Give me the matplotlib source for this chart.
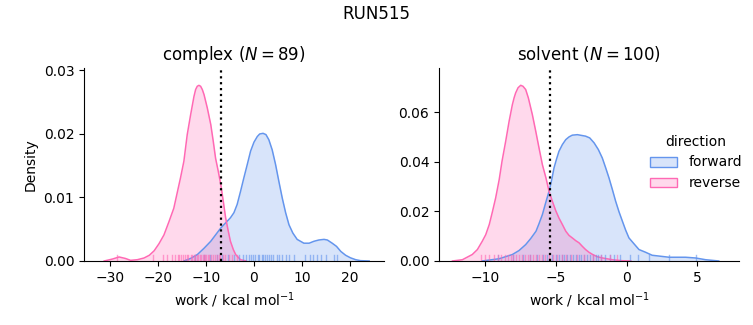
import matplotlib
matplotlib.use("Agg")
import matplotlib.pyplot as plt
from matplotlib.patches import Patch

# KDE curves (work in kcal/mol, density) and the individual work values for the rug
complex_fwd_x = [-14.6, -13.2, -11.8, -10.4, -9.0, -8.0, -6.9, -5.9, -4.9, -4.17, -3.5, -2.78,
                 -2.1, -1.39, -0.7, 0.0, 0.7, 1.2, 1.9, 2.5, 3.1, 3.8, 4.5, 5.2, 5.9, 6.6,
                 7.3, 8.1, 9.0, 9.7, 10.4, 11.5, 12.5, 13.5, 14.6, 15.3, 16.3, 17.2, 18.1,
                 19.1, 20.1, 21.2, 22.2, 24.0]
complex_fwd_y = [0.0, 0.0004, 0.0010, 0.0020, 0.0031, 0.0041, 0.0052, 0.0060, 0.0068, 0.0076,
                 0.0089, 0.0110, 0.0131, 0.0152, 0.0173, 0.0187, 0.0196, 0.0200, 0.0201,
                 0.0199, 0.0191, 0.0175, 0.0152, 0.0125, 0.0099, 0.0076, 0.0057, 0.0044,
                 0.0034, 0.0031, 0.0028, 0.0028, 0.0031, 0.0033, 0.0034, 0.0033, 0.0028,
                 0.0023, 0.0015, 0.0009, 0.0005, 0.0002, 0.00005, 0.0]
complex_rev_x = [-31.2, -29.5, -28.1, -26.8, -25.7, -24.3, -22.9, -21.8, -20.8, -19.8, -18.75,
                 -17.7, -16.7, -15.3, -14.6, -13.9, -13.2, -12.5, -12.15, -11.81, -11.46,
                 -11.11, -10.76, -10.4, -9.72, -9.0, -8.47, -8.0, -7.43, -6.9, -6.39, -5.9,
                 -5.35, -4.9, -4.3, -3.8, -2.8, -1.6]
complex_rev_y = [0.0, 0.0003, 0.00063, 0.0004, 0.0001, 0.0002, 0.00047, 0.0009, 0.0016,
                 0.0027, 0.0041, 0.0062, 0.0083, 0.0131, 0.0157, 0.0199, 0.0230, 0.0259,
                 0.0270, 0.02751, 0.02766, 0.02751, 0.0270, 0.0262, 0.0241, 0.0215, 0.0188,
                 0.0162, 0.0141, 0.0120, 0.0094, 0.0068, 0.0047, 0.0031, 0.0018, 0.0010,
                 0.0002, 0.0]

solvent_fwd_x = [-10.2, -9.0, -8.07, -7.6, -7.13, -6.78, -6.4, -6.19, -5.95, -5.72, -5.48,
                 -5.29, -5.13, -4.96, -4.78, -4.54, -4.3, -4.07, -3.84, -3.48, -2.9, -2.61,
                 -2.3, -2.0, -1.72, -1.48, -1.25, -1.01, -0.78, -0.54, -0.3, -0.07, 0.16,
                 0.52, 0.87, 1.34, 1.8, 3.0, 4.16, 4.87, 5.58, 6.5]
solvent_fwd_y = [0.0, 0.0009, 0.0026, 0.0042, 0.0066, 0.0090, 0.0120, 0.0150, 0.0187, 0.0234,
                 0.0281, 0.0328, 0.0375, 0.0409, 0.0442, 0.0469, 0.0489, 0.0500, 0.0507,
                 0.0509, 0.0503, 0.0496, 0.0476, 0.0449, 0.0415, 0.0375, 0.0335, 0.0288,
                 0.0241, 0.0198, 0.0160, 0.0124, 0.0093, 0.0069, 0.0046, 0.0035, 0.0023,
                 0.0015, 0.0015, 0.0012, 0.0005, 0.0]
solvent_rev_x = [-12.3, -11.6, -10.9, -10.54, -10.2, -9.95, -9.7, -9.48, -9.25, -9.0, -8.8,
                 -8.54, -8.3, -8.07, -7.95, -7.84, -7.67, -7.48, -7.32, -7.13, -6.94, -6.66,
                 -6.42, -6.19, -5.95, -5.7, -5.48, -5.25, -5.01, -4.78, -4.54, -4.3, -4.07,
                 -3.84, -3.6, -3.36, -3.13, -2.9, -2.66, -2.4, -2.07, -1.7, -1.0, -0.3, 0.3]
solvent_rev_y = [0.0, 0.0005, 0.0026, 0.0046, 0.0079, 0.0106, 0.0147, 0.0198, 0.0254, 0.0328,
                 0.0402, 0.0483, 0.0563, 0.0630, 0.0657, 0.0677, 0.0698, 0.0708, 0.0704,
                 0.0691, 0.0657, 0.0590, 0.0523, 0.0456, 0.0388, 0.0335, 0.0281, 0.0241,
                 0.0203, 0.0173, 0.0147, 0.0120, 0.0103, 0.0093, 0.0082, 0.0073, 0.0059,
                 0.0046, 0.0035, 0.0026, 0.0017, 0.0012, 0.0005, 0.0001, 0.0]

complex_fwd_work = [-12.3, -10.5, -9.1, -7.8, -6.6, -5.4, -4.2, -3.1, -2.2, -1.6, -1.1, -0.6,
                    -0.1, 0.3, 0.8, 1.1, 1.6, 1.9, 2.3, 2.8, 3.1, 3.6, 4.0, 4.7, 5.3, 5.9,
                    6.7, 7.4, 8.3, 10.6, 11.7, 12.3, 13.1, 13.9, 15.0, 16.6, 17.2]
complex_rev_work = [-28.5, -21.1, -19.0, -18.1, -17.0, -16.4, -15.9, -15.6, -15.1, -14.8,
                    -14.4, -14.0, -13.7, -13.2, -12.9, -12.5, -12.3, -11.9, -11.7, -11.3,
                    -11.1, -10.7, -10.5, -10.1, -9.9, -9.5, -9.3, -8.9, -8.6, -8.1, -7.8,
                    -7.3, -7.0, -6.4, -6.0, -5.2, -4.5, -3.6]
solvent_fwd_work = [-9.1, -8.0, -7.3, -6.8, -6.3, -5.9, -5.6, -5.3, -5.0, -4.8, -4.6, -4.4,
                    -4.2, -4.0, -3.8, -3.6, -3.4, -3.2, -3.0, -2.8, -2.6, -2.4, -2.2, -2.0,
                    -1.8, -1.5, -1.2, -0.9, -0.5, 0.2, 0.8, 1.6, 3.0, 4.9]
solvent_rev_work = [-10.3, -10.0, -9.7, -9.4, -9.1, -8.9, -8.6, -8.4, -8.2, -8.0, -7.8, -7.6,
                    -7.4, -7.2, -7.0, -6.8, -6.6, -6.4, -6.2, -6.0, -5.8, -5.5, -5.2, -4.9,
                    -4.6, -4.3, -3.9, -3.5, -3.0, -2.4, -1.8, -1.2, -0.7]

# free energy estimates shown as dotted lines
complex_dg = -6.8
solvent_dg = -5.4

FWD = "#6495ED"
REV = "#FF69B4"

fig = plt.figure(figsize=(7.53, 3.25), dpi=100)
ax1 = fig.add_axes([0.1116, 0.197, 0.3984, 0.594])
ax2 = fig.add_axes([0.583, 0.197, 0.3984, 0.594])


def draw_panel(ax, fx, fy, rx, ry, fwork, rwork, dg):
    for x, y, c in ((fx, fy, FWD), (rx, ry, REV)):
        ax.fill_between(x, y, 0, color=c, alpha=0.25, linewidth=0)
        ax.plot(x, y, color=c, lw=1.1, solid_joinstyle="round")
    for w, c in ((fwork, FWD), (rwork, REV)):
        for v in w:
            ax.axvline(v, 0, 0.03, color=c, lw=1.0, alpha=0.6)
    ax.axvline(dg, color="black", ls=":", lw=1.6)
    ax.spines["top"].set_visible(False)
    ax.spines["right"].set_visible(False)
    ax.set_xlabel("work / kcal mol$^{-1}$")


draw_panel(ax1, complex_fwd_x, complex_fwd_y, complex_rev_x, complex_rev_y,
           complex_fwd_work, complex_rev_work, complex_dg)
ax1.set_xlim(-35.4, 27.1)
ax1.set_ylim(0, 0.0304)
ax1.set_xticks([-30, -20, -10, 0, 10, 20])
ax1.set_yticks([0.0, 0.01, 0.02, 0.03])
ax1.set_ylabel("Density")
ax1.set_title("complex ($N = 89$)", fontsize=12)

draw_panel(ax2, solvent_fwd_x, solvent_fwd_y, solvent_rev_x, solvent_rev_y,
           solvent_fwd_work, solvent_rev_work, solvent_dg)
ax2.set_xlim(-13.25, 7.93)
ax2.set_ylim(0, 0.0778)
ax2.set_xticks([-10, -5, 0, 5])
ax2.set_yticks([0.0, 0.02, 0.04, 0.06])
ax2.set_title("solvent ($N = 100$)", fontsize=12)

handles = [Patch(facecolor=FWD + "40", edgecolor=FWD, lw=1),
           Patch(facecolor=REV + "40", edgecolor=REV, lw=1)]
fig.legend(handles, ["forward", "reverse"], title="direction", frameon=False,
           loc="center left", bbox_to_anchor=(0.846, 0.5))

fig.suptitle("RUN515", fontsize=12, y=0.985)

fig.savefig("out.png", dpi=100)
